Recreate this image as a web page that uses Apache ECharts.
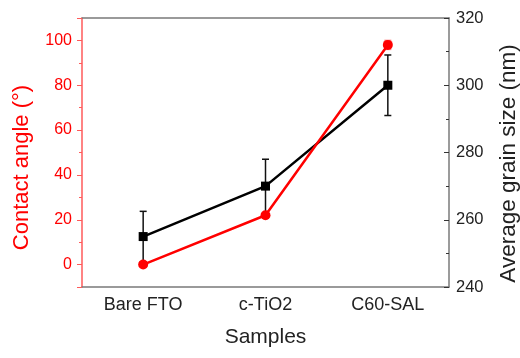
<!DOCTYPE html>
<html><head><meta charset="utf-8">
<script src="https://cdn.jsdelivr.net/npm/echarts@6/dist/echarts.min.js"></script>
<style>html,body{margin:0;padding:0;background:#fff}#c{width:520px;height:358px}</style>
</head><body><div id="c"></div>
<script>
var categories = ['Bare FTO', 'c-TiO2', 'C60-SAL'];
var contactAngle = [0, 22, 98];
var contactAngleErr = [0, 0, 2];
var grainSize = [255, 270, 300];
var grainSizeErr = [7.5, 8, 9];
var leftTicks = [0, 20, 40, 60, 80, 100];
var rightTicks = [240, 260, 280, 300, 320];

var FONT = 'Liberation Sans';
var RED = '#ff0000';
var GRAY = '#7a7a7a';

function errSeries(vals, errs, yIdx, color, z) {
  var data = vals.map(function (v, i) { return [i, v - errs[i], v + errs[i]]; });
  return {
    type: 'custom', xAxisIndex: 0, yAxisIndex: yIdx, z: z, silent: true,
    data: data,
    renderItem: function (params, api) {
      var lo = api.coord([api.value(0), api.value(1)]);
      var hi = api.coord([api.value(0), api.value(2)]);
      var w = 3.5;
      var st = { stroke: color, lineWidth: 1.5 };
      return { type: 'group', children: [
        { type: 'line', shape: { x1: lo[0], y1: lo[1], x2: hi[0], y2: hi[1] }, style: st },
        { type: 'line', shape: { x1: lo[0] - w, y1: lo[1], x2: lo[0] + w, y2: lo[1] }, style: st },
        { type: 'line', shape: { x1: hi[0] - w, y1: hi[1], x2: hi[0] + w, y2: hi[1] }, style: st }
      ]};
    }
  };
}

var chart = echarts.init(document.getElementById('c'), null, { renderer: 'canvas' });
chart.setOption({
  animation: false,
  textStyle: { fontFamily: FONT },
  grid: { left: 82, right: 71, top: 18, bottom: 71, containLabel: false, outerBoundsMode: 'none' },
  xAxis: [{
    type: 'category', data: categories, position: 'bottom', boundaryGap: true,
    axisLine: { onZero: false, lineStyle: { color: GRAY, width: 1.5 } },
    axisTick: { alignWithLabel: true, length: 5, lineStyle: { color: '#333', width: 1 } },
    axisLabel: { color: '#222', fontSize: 18, margin: 9, fontFamily: FONT },
    name: 'Samples', nameLocation: 'middle', nameGap: 40,
    nameTextStyle: { color: '#222', fontSize: 21, fontFamily: FONT },
    splitLine: { show: false }
  }, {
    type: 'category', data: categories, position: 'top', boundaryGap: true,
    axisLine: { onZero: false, lineStyle: { color: GRAY, width: 1.5 } },
    axisTick: { alignWithLabel: true, inside: true, length: 5, lineStyle: { color: '#333', width: 1 } },
    axisLabel: { show: false }, splitLine: { show: false }
  }],
  yAxis: [{
    type: 'value', position: 'left', min: -10, max: 110, interval: 10,
    axisLine: { show: true, onZero: false, lineStyle: { color: '#ff5a5a', width: 1.5 } },
    axisTick: { show: true, length: 3, lineStyle: { color: '#ff5a5a', width: 1 } },
    axisLabel: { color: RED, fontSize: 16, margin: 10, fontFamily: FONT,
      formatter: function (v) { return leftTicks.indexOf(v) >= 0 ? String(v) : ''; } },
    name: 'Contact angle (°)', nameLocation: 'middle', nameGap: 49, nameRotate: 90,
    nameTextStyle: { color: RED, fontSize: 22, fontFamily: FONT, padding: [0, 30, 0, 0] },
    splitLine: { show: false }
  }, {
    type: 'value', position: 'left', min: -10, max: 110, splitNumber: 6,
    axisLine: { show: false },
    axisTick: { show: true, length: 5, lineStyle: { color: '#ff5a5a', width: 1 } },
    axisLabel: { show: false }, splitLine: { show: false }
  }, {
    type: 'value', position: 'right', min: rightTicks[0], max: rightTicks[rightTicks.length - 1], interval: 20,
    axisLine: { show: true, onZero: false, lineStyle: { color: GRAY, width: 1.5 } },
    axisTick: { show: true, inside: true, length: 5, lineStyle: { color: '#333', width: 1 } },
    minorTick: { show: true, splitNumber: 2, length: 3, lineStyle: { color: '#333', width: 1 } },
    axisLabel: { color: '#222', fontSize: 16.5, margin: 7, fontFamily: FONT },
    name: 'Average grain size (nm)', nameLocation: 'middle', nameGap: 48, nameRotate: 90,
    nameTextStyle: { color: '#222', fontSize: 22.5, fontFamily: FONT, padding: [0, 22, 0, 0] },
    splitLine: { show: false }, minorSplitLine: { show: false }
  }],
  series: [
    errSeries(grainSize, grainSizeErr, 2, '#111', 2),
    {
      type: 'line', data: grainSize, xAxisIndex: 0, yAxisIndex: 2, z: 3,
      symbol: 'rect', symbolSize: 9,
      lineStyle: { color: '#000', width: 2.5 }, itemStyle: { color: '#000' }
    },
    errSeries(contactAngle, contactAngleErr, 0, '#ff8080', 4),
    {
      type: 'line', data: contactAngle, xAxisIndex: 0, yAxisIndex: 0, z: 5,
      symbol: 'circle', symbolSize: 10,
      lineStyle: { color: RED, width: 2.5 }, itemStyle: { color: RED }
    }
  ]
});
</script></body></html>
